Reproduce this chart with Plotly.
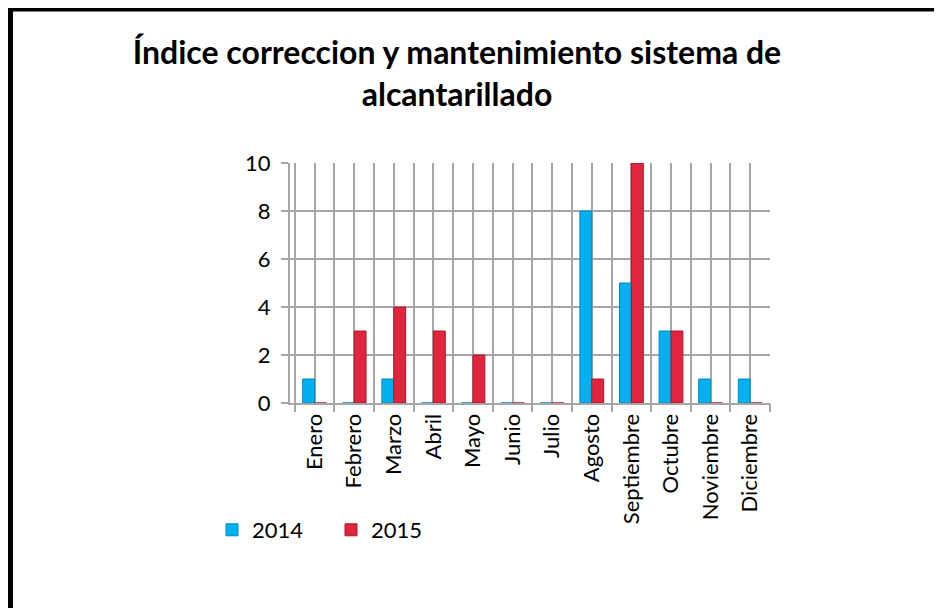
import plotly.graph_objects as go

months = ["Enero", "Febrero", "Marzo", "Abril", "Mayo", "Junio", "Julio",
          "Agosto", "Septiembre", "Octubre", "Noviembre", "Diciembre"]
vals_2014 = [1, 0, 1, 0, 0, 0, 0, 8, 5, 3, 1, 1]
vals_2015 = [0, 3, 4, 3, 2, 0, 0, 1, 10, 3, 0, 0]
y_ticks = [0, 2, 4, 6, 8, 10]
title_text = "Índice correccion y mantenimiento sistema de<br>alcantarillado"

idx = list(range(len(months)))
FONT = "Lato, 'Open Sans', sans-serif"
GRID = "#A6A6A6"

W, H = 934, 600          # page body has an 8px margin
L, R, T, B = 282, 172, 155, 205
PW, PH = W - L - R, H - T - B

def px_x(x):  # figure pixel -> paper x
    return (x - L) / PW

def px_y(y):  # figure pixel -> paper y
    return (H - B - y) / PH

fig = go.Figure()
fig.add_trace(go.Bar(x=idx, y=vals_2014, name="2014",
                     marker=dict(color="#00B0F0", line=dict(color="#0088BC", width=1))))
fig.add_trace(go.Bar(x=idx, y=vals_2015, name="2015",
                     marker=dict(color="#E2253F", line=dict(color="#A8182C", width=1))))
fig.add_trace(go.Scatter(x=[-0.62, 11.5], y=[0, 0], xaxis="x2", mode="lines",
                         line=dict(width=0), showlegend=False, hoverinfo="skip"))

fig.update_layout(
    width=W, height=H,
    paper_bgcolor="white", plot_bgcolor="white",
    margin=dict(l=L, r=R, t=T, b=B),
    barmode="group", bargap=0.4, bargroupgap=0.0,
    title=dict(text=title_text, x=449 / W, xanchor="center",
               y=1 - 56 / H, yanchor="top",
               font=dict(family=FONT, size=32, color="black", weight="bold")),
    font=dict(family=FONT, size=22, color="black"),
    xaxis=dict(range=[-0.62, 11.5], tickmode="array", tickvals=idx, ticktext=months,
               tickangle=-90, showgrid=True, gridcolor=GRID, gridwidth=2,
               minor=dict(tick0=-0.5, dtick=1, showgrid=True, gridcolor=GRID, gridwidth=2),
               showline=True, linecolor=GRID, linewidth=2, ticks="",
               tickfont=dict(size=22, family=FONT), zeroline=False),
    xaxis2=dict(range=[-0.62, 11.5], overlaying="x", side="bottom", tickmode="array",
                tickvals=[i - 0.5 for i in range(13)], showticklabels=False,
                ticks="outside", ticklen=8, tickwidth=2, tickcolor=GRID, showgrid=False,
                zeroline=False),
    yaxis=dict(range=[0, 10], tickmode="array", tickvals=y_ticks,
               showgrid=True, gridcolor=GRID, gridwidth=2,
               showline=True, linecolor=GRID, linewidth=2,
               ticks="outside", ticklen=7, tickwidth=2, tickcolor=GRID,
               ticklabelstandoff=6,
               tickfont=dict(size=22, family=FONT), zeroline=False),
    legend=dict(orientation="h", x=px_x(204), xanchor="left", y=px_y(522), yanchor="middle",
                font=dict(size=22, family=FONT), itemwidth=30, traceorder="normal",
                entrywidth=74, entrywidthmode="pixels",
                bgcolor="rgba(0,0,0,0)"),
    shapes=[
        dict(type="line", xref="paper", yref="paper", x0=px_x(0), x1=px_x(W),
             y0=px_y(1), y1=px_y(1), line=dict(color="black", width=5)),
        dict(type="line", xref="paper", yref="paper", x0=px_x(2.5), x1=px_x(2.5),
             y0=px_y(-1), y1=px_y(H), line=dict(color="black", width=5)),
    ],
)

fig.write_html("out.html")
